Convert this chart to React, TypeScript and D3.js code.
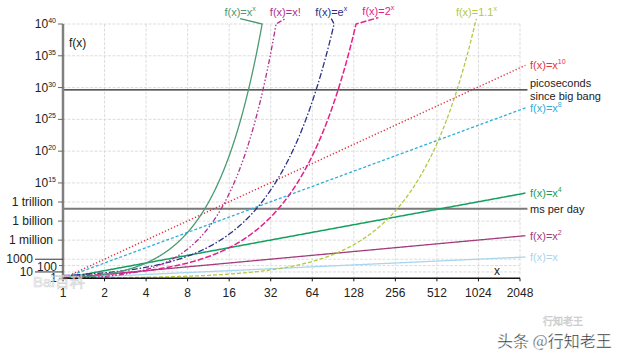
import React from 'react';
import * as d3 from 'd3';

const W = 621;
const H = 357;
const FONT = '"Liberation Sans", Arial, Helvetica, sans-serif';

// x axis (log base 2)
const xTickValues = [1, 2, 4, 8, 16, 32, 64, 128, 256, 512, 1024, 2048];
const xLineEnd = 2243; // lines run slightly past the last tick
// y axis: exponents of ten
const yPowerTicks = [40, 35, 30, 25, 20, 15];
const yNamedTicks = [
  { exp: 12, label: '1 trillion' },
  { exp: 9, label: '1 billion' },
  { exp: 6, label: '1 million' },
];
const ySmallTicks = [
  { exp: 3, label: '1000', lead: true },
  { exp: 2, label: '100', lead: false },
  { exp: 1, label: '10', lead: true },
  { exp: 0, label: '1', lead: false },
];
const yTop = 40;

// reference lines (log10 of value)
const refLines = [
  { exp: 29.64, lines: ['picoseconds', 'since big bang'], color: '#222', width: 1.3 },
  { exp: 10.94, lines: ['ms per day'], color: '#7a7a7a', width: 2.2 },
];

function lgamma(z: number): number {
  const g = 7;
  const c = [0.99999999999980993, 676.5203681218851, -1259.1392167224028, 771.32342877765313,
    -176.61502916214059, 12.507343278686905, -0.13857109526572012, 9.9843695780195716e-6,
    1.5056327351493116e-7];
  z -= 1;
  let a = c[0];
  const t = z + g + 0.5;
  for (let i = 1; i < g + 2; i++) a += c[i] / (z + i);
  return 0.5 * Math.log(2 * Math.PI) + (z + 0.5) * Math.log(t) - t + Math.log(a);
}

// the plotted functions, as log10 f(x)
const polySeries = [
  { base: 'x', sup: '', power: 1, color: '#a9d6ee', dash: '', width: 1.3 },
  { base: 'x', sup: '2', power: 2, color: '#a23c7c', dash: '', width: 1.3 },
  { base: 'x', sup: '4', power: 4, color: '#12a05e', dash: '', width: 1.5 },
  { base: 'x', sup: '8', power: 8, color: '#2eaed8', dash: '3,2', width: 1.3 },
  { base: 'x', sup: '10', power: 10, color: '#e2333f', dash: '1.3,2', width: 1.4 },
];

const fastSeries = [
  { base: '1.1', sup: 'x', color: '#b3c944', dash: '4,2', width: 1.3, f: (x: number) => x * Math.log10(1.1), leadEnd: [990, 40.8] },
  { base: '2', sup: 'x', color: '#e5208c', dash: '6,2', width: 1.5, f: (x: number) => x * Math.log10(2), leadEnd: [192.7, 41.0] },
  { base: 'e', sup: 'x', color: '#2b2f85', dash: '6,2,1.5,2', width: 1.3, f: (x: number) => x * Math.LOG10E, leadEnd: [87.9, 40.85] },
  { base: 'x!', sup: '', color: '#b1308e', dash: '5,2,1.5,2,1.5,2', width: 1.3, f: (x: number) => lgamma(x + 1) / Math.LN10, leadEnd: [40.8, 40.85] },
  { base: 'x', sup: 'x', color: '#4a9a72', dash: '', width: 1.3, f: (x: number) => x * Math.log10(x), leadEnd: [19.2, 40.85] },
];

const x = d3.scaleLog().base(2).domain([1, 2048]).range([63, 520]);
const y = d3.scaleLinear().domain([0, 40]).range([278.3, 24]);

const line = d3.line<[number, number]>().x(d => x(d[0])).y(d => y(d[1]));

function sampleX(maxX: number): number[] {
  const n = 400;
  const lmax = Math.log2(maxX);
  return d3.range(n + 1).map(i => Math.pow(2, (lmax * i) / n));
}

function findTop(f: (x: number) => number): number {
  let lo = 1, hi = 3000;
  for (let i = 0; i < 60; i++) {
    const m = (lo + hi) / 2;
    if (f(m) < yTop) lo = m; else hi = m;
  }
  return lo;
}

function Label({ base, sup, color, xPos, yPos, anchor }: any) {
  return (
    <text x={xPos} y={yPos} fill={color} fontSize={11} textAnchor={anchor} fontFamily={FONT}>
      <tspan>{'f(x)=' + base}</tspan>
      {sup ? <tspan dy={-5} fontSize={7}>{sup}</tspan> : null}
    </text>
  );
}

export default function App() {
  const left = x(1);
  const right = x(2048);
  const lineRight = x(xLineEnd);
  const allYTicks = [...yPowerTicks, ...yNamedTicks.map(d => d.exp), ...ySmallTicks.map(d => d.exp)];
  return (
    <svg width={W} height={H} style={{ position: 'absolute', left: 0, top: 0, background: '#fff' }}>
      <rect width={W} height={H} fill="#fff" />
      {/* grid */}
      {xTickValues.map(v => (
        <line key={'gx' + v} x1={x(v)} x2={x(v)} y1={y(40)} y2={y(0)} stroke="#d4d4d4" strokeWidth={0.8} strokeDasharray="3,1.5" />
      ))}
      {allYTicks.map(e => (
        <line key={'gy' + e} x1={left} x2={right} y1={y(e)} y2={y(e)} stroke="#d4d4d4" strokeWidth={0.8} strokeDasharray="3,1.5" />
      ))}

      {/* reference lines */}
      {refLines.map((r, i) => (
        <g key={'ref' + i}>
          <line x1={left} x2={lineRight + 2} y1={y(r.exp)} y2={y(r.exp)} stroke={r.color} strokeWidth={r.width} />
          {r.lines.map((t, j) => (
            <text key={j} x={530} y={y(r.exp) + 4 + (j - (r.lines.length - 1) / 2) * 13} fontSize={11} fill="#222" fontFamily={FONT}>{t}</text>
          ))}
        </g>
      ))}

      {/* polynomial series */}
      {polySeries.map((s, i) => {
        const pts = sampleX(xLineEnd).map(v => [v, s.power * Math.log10(v)] as [number, number]);
        const last = pts[pts.length - 1];
        return (
          <g key={'p' + i}>
            <path d={line(pts) || ''} fill="none" stroke={s.color} strokeWidth={s.width} strokeDasharray={s.dash || undefined} />
            <Label base={s.base} sup={s.sup} color={s.color} xPos={530} yPos={y(last[1]) + 4} anchor="start" />
          </g>
        );
      })}

      {/* fast-growing series */}
      {fastSeries.map((s, i) => {
        const top = findTop(s.f);
        const pts = sampleX(top).map(v => [v, Math.min(yTop, s.f(v))] as [number, number]);
        pts.push([s.leadEnd[0], s.leadEnd[1]]);
        return (
          <g key={'f' + i}>
            <path d={line(pts) || ''} fill="none" stroke={s.color} strokeWidth={s.width} strokeDasharray={s.dash || undefined} />
            <Label base={s.base} sup={s.sup} color={s.color} xPos={x(s.leadEnd[0])} yPos={y(s.leadEnd[1]) - 3} anchor="middle" />
          </g>
        );
      })}

      {/* axes */}
      <line x1={left} x2={right} y1={y(0)} y2={y(0)} stroke="#111" strokeWidth={1.5} />
      {xTickValues.map(v => (
        <g key={'xt' + v}>
          <line x1={x(v)} x2={x(v)} y1={y(0)} y2={y(0) + 3} stroke="#111" strokeWidth={1} />
          <text x={x(v)} y={297} textAnchor="middle" fontSize={12} fill="#222" fontFamily={FONT}>{v}</text>
        </g>
      ))}
      <line x1={left} x2={left} y1={y(40)} y2={y(0)} stroke="#808080" strokeWidth={2.5} />
      {yPowerTicks.map(e => (
        <g key={'yp' + e}>
          <line x1={left - 5} x2={left} y1={y(e)} y2={y(e)} stroke="#666" strokeWidth={1} />
          <text x={56} y={y(e) + 4} textAnchor="end" fontSize={12} fill="#222" fontFamily={FONT}>
            <tspan>10</tspan>
            <tspan dy={-5} fontSize={7}>{e}</tspan>
          </text>
        </g>
      ))}
      {yNamedTicks.map(t => (
        <g key={'yn' + t.exp}>
          <line x1={left - 5} x2={left} y1={y(t.exp)} y2={y(t.exp)} stroke="#666" strokeWidth={1} />
          <text x={53} y={y(t.exp) + 4} textAnchor="end" fontSize={12} fill="#222" fontFamily={FONT}>{t.label}</text>
        </g>
      ))}
      {ySmallTicks.map(t => (
        <g key={'ys' + t.exp}>
          {t.lead ? (
            <line x1={35} x2={left} y1={y(t.exp)} y2={y(t.exp)} stroke="#333" strokeWidth={1} />
          ) : (
            <line x1={left - 4} x2={left} y1={y(t.exp)} y2={y(t.exp)} stroke="#666" strokeWidth={1} />
          )}
          <text x={t.lead ? 33 : 57} y={y(t.exp) + (t.exp === 2 ? 5 : 4)} textAnchor="end" fontSize={12} fill="#222" fontFamily={FONT}>{t.label}</text>
        </g>
      ))}

      {/* axis titles */}
      <text x={69} y={47} fontSize={12} fill="#222" fontFamily={FONT}>f(x)</text>
      <text x={497} y={275} textAnchor="middle" fontSize={12} fill="#222" fontFamily={FONT}>x</text>

      {/* watermarks */}
      <text x={33} y={287} fontSize={15} fill="#fff" fillOpacity={0.7} stroke="#d0d0d0" strokeWidth={0.7} fontFamily={FONT} opacity={0.85}>Bai百科</text>
      <text x={543} y={325} fontSize={10} fill="#fff" stroke="#c4c4c4" strokeWidth={0.5} fontFamily={'"Noto Sans CJK SC", sans-serif'}>行知老王</text>
      <text x={497} y={347} fontSize={16} fill="#222" stroke="#fff" strokeWidth={0.4} fontFamily={'"Noto Sans CJK SC", sans-serif'}>头条 @行知老王</text>
    </svg>
  );
}
